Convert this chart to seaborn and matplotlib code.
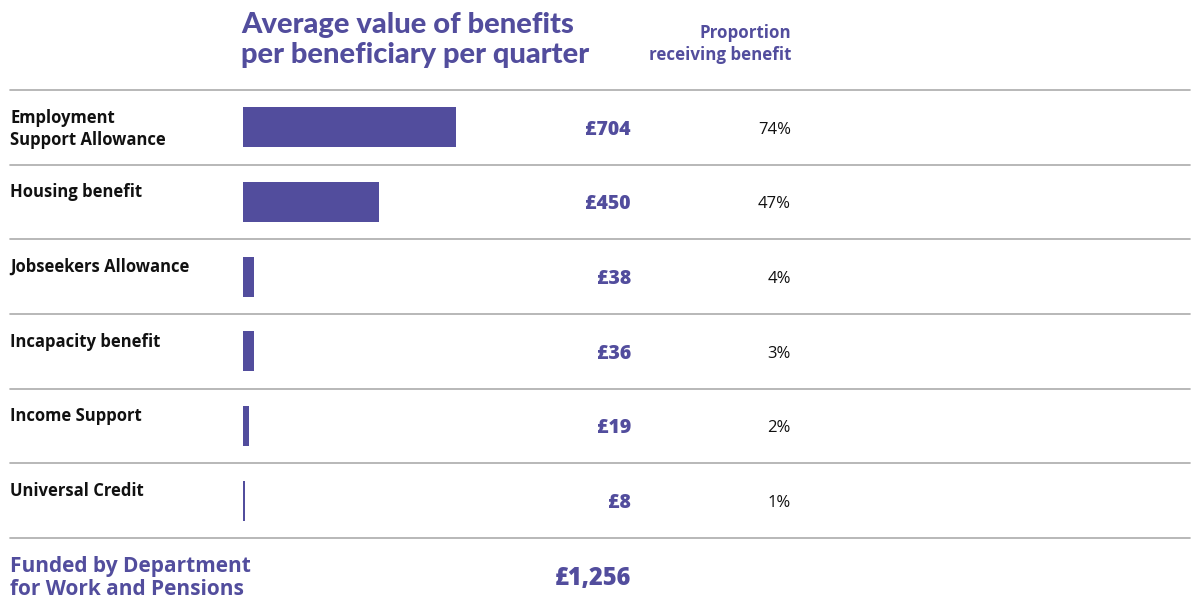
import matplotlib
matplotlib.use("Agg")
import matplotlib.pyplot as plt
import seaborn as sns

# =========================
# Data
# =========================
categories = [
    "Employment\nSupport Allowance",
    "Housing benefit",
    "Jobseekers Allowance",
    "Incapacity benefit",
    "Income Support",
    "Universal Credit",
]
avg_value = [704, 450, 38, 36, 19, 8]
proportion = [74, 47, 4, 3, 2, 1]
total_value = 1256
funder = "Funded by Department\nfor Work and Pensions"

PURPLE = "#524D9D"
GRID = "#ABABAB"
W, H = 1194, 611

sns.set_theme(style="white")
plt.rcParams["font.family"] = ["Open Sans", "DejaVu Sans"]

fig = plt.figure(figsize=(W / 100, H / 100), dpi=100)

# bar axes: left edge at bar origin, spans the row block
left_px, right_px = 243, 1190
top_px, bot_px = 90, 538
ax = fig.add_axes([left_px / W, 1 - bot_px / H, (right_px - left_px) / W, (bot_px - top_px) / H])

sns.barplot(x=avg_value, y=list(range(len(categories))), orient="h", color=PURPLE,
            width=0.535, saturation=1, linewidth=0, ax=ax)

px_per_unit = 213 / 704
ax.set_xlim(0, (right_px - left_px) / px_per_unit)
ax.set_ylim(len(categories) - 0.5, -0.5)
ax.axis("off")

# row separators, running out to the left margin
xmin = (10 - left_px) / (right_px - left_px)
for b in range(len(categories) + 1):
    ax.axhline(b - 0.5, xmin=xmin, xmax=1, color=GRID, lw=1.2, clip_on=False, zorder=0)

# per-row text
val_x = (631 - left_px) / (right_px - left_px)
pct_x = (791 - left_px) / (right_px - left_px)
lab_x = (10 - left_px) / (right_px - left_px)
tr = ax.get_yaxis_transform()
for i, (cat, v, p) in enumerate(zip(categories, avg_value, proportion)):
    ax.text(lab_x, i - 0.5 + 0.25, cat, transform=tr, ha="left", va="top",
            fontsize=12, fontweight="bold", color="#111111", linespacing=1.3)
    ax.text(val_x, i + 0.03, f"£{v:,}", transform=tr, ha="right", va="center",
            fontsize=14, fontweight="heavy", color=PURPLE)
    ax.text(pct_x, i + 0.03, f"{p}%", transform=tr, ha="right", va="center",
            fontsize=12, color="#111111")

# headers
fig.text(241 / W, 1 - 12 / H, "Average value of benefits\nper beneficiary per quarter",
         ha="left", va="top", fontsize=21, fontweight="black", color=PURPLE,
         family=["Lato", "DejaVu Sans"], linespacing=1.2)
fig.text(791 / W, 1 - 24 / H, "Proportion\nreceiving benefit",
         ha="right", va="top", fontsize=12.2, fontweight="bold", color=PURPLE, linespacing=1.3)

# footer
fig.text(10 / W, 1 - 578 / H, funder, ha="left", va="center",
         fontsize=15, fontweight="bold", color=PURPLE, linespacing=1.1)
fig.text(631 / W, 1 - 578 / H, f"£{total_value:,}", ha="right", va="center",
         fontsize=17, fontweight="heavy", color=PURPLE)

fig.savefig("out.png", dpi=100, facecolor="white")
